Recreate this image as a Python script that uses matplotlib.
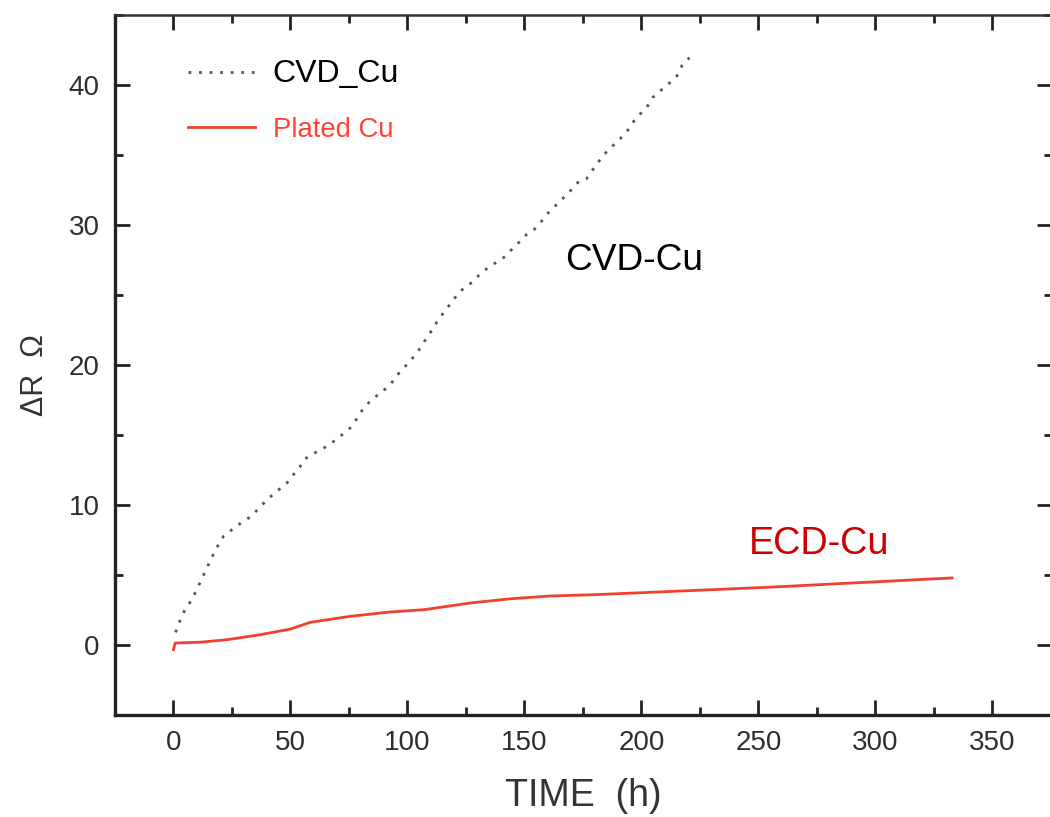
import matplotlib
matplotlib.use("Agg")
import matplotlib.pyplot as plt
from matplotlib.ticker import MultipleLocator

plt.rcParams['font.family'] = ['Liberation Sans', 'DejaVu Sans']

# CVD copper line: resistance rise vs. stress time
cvd_t = [0.9, 2.7, 4.8, 7.7, 10.1, 12.3, 14.4, 16.5, 18.9, 21.5, 25.5, 29.5, 33.3, 37.2,
         40.5, 44.3, 48.2, 50.9, 54, 55.4, 59, 63.1, 67.4, 71.1, 75, 77.9, 80.8, 84.2,
         92.5, 95.2, 98.2, 101.3, 104.6, 107.3, 110.1, 112.7, 115.7, 118.5, 121.2, 124.1,
         127.6, 130.5, 134, 137.7, 141.8, 145.4, 148.6, 151.1, 154.3, 157.5, 160.8, 164.7,
         169.7, 173.2, 176.5, 178.5, 180.8, 183.5, 186.8, 190.2, 193.6, 195.7, 198.7,
         202.3, 204.8, 208.2, 211.7, 215.2, 217.4, 220.5]
cvd_r = [0.9, 1.7, 2.5, 3.2, 4.0, 4.8, 5.55, 6.3, 7.07, 7.8, 8.3, 8.8, 9.2, 9.9,
         10.45, 11.0, 11.5, 12.1, 12.7, 13.2, 13.6, 13.95, 14.4, 14.9, 15.4, 16.05, 16.8, 17.45,
         18.55, 19.2, 19.75, 20.3, 21.0, 21.7, 22.4, 23.1, 23.8, 24.4, 25.0, 25.5,
         25.9, 26.4, 26.9, 27.3, 27.75, 28.4, 28.9, 29.35, 29.7, 30.3, 31.0, 31.6,
         32.45, 33.1, 33.3, 33.8, 34.3, 34.95, 35.5, 36.05, 36.6, 37.2, 37.8,
         38.4, 39.1, 39.6, 40.1, 40.65, 41.4, 41.95]

# plated (ECD) copper line
ecd_t = [0, 0.7, 11.5, 22.9, 37.2, 50, 58.5, 75.6, 92.7, 107, 126.9, 144, 161, 181, 253.7, 332.8]
ecd_r = [-0.33, 0.14, 0.2, 0.38, 0.74, 1.14, 1.62, 2.05, 2.36, 2.52, 3.0, 3.3, 3.5, 3.6, 4.12, 4.79]

x_ticks = [0, 50, 100, 150, 200, 250, 300, 350]
y_ticks = [0, 10, 20, 30, 40]

fig = plt.figure(figsize=(10.5, 8.17), dpi=100)
ax = fig.add_axes([115 / 1050, 1 - 715 / 817, (1052 - 115) / 1050, 700 / 817])

line_cvd, = ax.plot(cvd_t, cvd_r, color='#555555', lw=2.0, linestyle=(0, (1, 2.8)),
                    label='CVD_Cu')
line_ecd, = ax.plot(ecd_t, ecd_r, color='#f2402e', lw=2.0, label='Plated Cu')

ax.set_xlim(-25, 375.5)
ax.set_ylim(-5, 45)
ax.set_xticks(x_ticks)
ax.set_yticks(y_ticks)
ax.xaxis.set_minor_locator(MultipleLocator(25))
ax.yaxis.set_minor_locator(MultipleLocator(5))

tick_color = '#2e2e2e'
ax.tick_params(which='both', direction='in', top=True, right=True, color='#222222',
               labelsize=20, labelcolor=tick_color)
ax.tick_params(which='major', length=11, width=2.0)
ax.tick_params(which='minor', length=6, width=2.0)
ax.tick_params(axis='x', pad=11)
ax.tick_params(axis='y', pad=11)

for side in ['left', 'bottom']:
    ax.spines[side].set_linewidth(2.4)
    ax.spines[side].set_color('#222222')
ax.spines['top'].set_linewidth(1.8)
ax.spines['top'].set_color('#333333')
ax.spines['right'].set_linewidth(1.8)

ax.set_xlabel('TIME  (h)', fontsize=27, color='#333333', labelpad=16)
ax.set_ylabel('ΔR  Ω', fontsize=22, color='#333333')
ax.yaxis.set_label_coords(-0.069, 0.485)

leg = ax.legend(handles=[line_cvd, line_ecd], loc='upper left',
                bbox_to_anchor=(0.05, 0.975), frameon=False, fontsize=21,
                handlelength=2.3, handletextpad=0.6, labelspacing=0.95)
texts = leg.get_texts()
texts[0].set_fontsize(23)
texts[0].set_color('black')
texts[1].set_fontsize(19.8)
texts[1].set_color('#ff4433')

ax.text(197, 27.5, 'CVD-Cu', fontsize=26.7, color='black', ha='center', va='center')
ax.text(276, 7.2, 'ECD-Cu', fontsize=27.2, color='#cc0000', ha='center', va='center')

fig.savefig('out.png', dpi=100)
